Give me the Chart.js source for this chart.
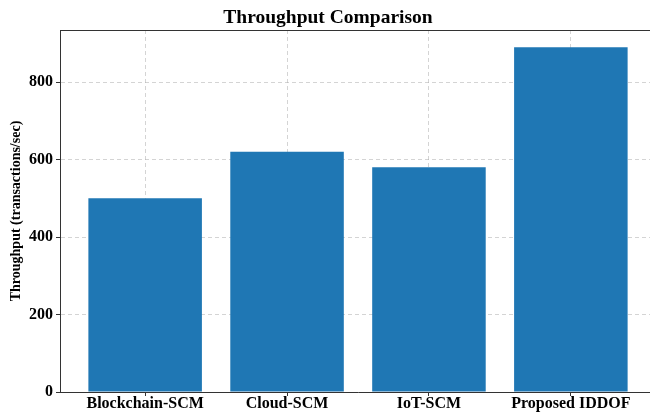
<!DOCTYPE html>
<html>
<head>
<meta charset="utf-8">
<script src="https://cdn.jsdelivr.net/npm/chart.js@4"></script>
<style>
  html, body { margin: 0; padding: 0; background: #fff; overflow: hidden; }
  #wrap { width: 700px; height: 412px; position: relative; }
</style>
</head>
<body>
<div id="wrap"><canvas id="chart"></canvas></div>
<script>
// chart data
const categories = ['Blockchain-SCM', 'Cloud-SCM', 'IoT-SCM', 'Proposed IDDOF'];
const throughput = [500, 620, 580, 890];
const yTicks = [0, 200, 400, 600, 800];

const serif = "'Liberation Serif', 'Times New Roman', serif";

// matplotlib-like top spine
const topSpine = {
    id: 'topSpine',
    afterDraw(chart) {
        const { ctx, chartArea } = chart;
        ctx.save();
        ctx.strokeStyle = '#333';
        ctx.lineWidth = 1;
        ctx.beginPath();
        ctx.moveTo(chartArea.left, chartArea.top + 0.5);
        ctx.lineTo(chartArea.right, chartArea.top + 0.5);
        ctx.stroke();
        ctx.restore();
    }
};

new Chart(document.getElementById('chart'), {
    type: 'bar',
    data: {
        datasets: [{
            data: throughput.map((v, i) => ({ x: i, y: v })),
            backgroundColor: '#1f77b4',
            borderWidth: 0,
            barPercentage: 0.8,
            categoryPercentage: 1.0
        }]
    },
    options: {
        responsive: true,
        maintainAspectRatio: false,
        animation: false,
        layout: { padding: { left: 0, right: 44, top: 0, bottom: 0 } },
        plugins: {
            legend: { display: false },
            tooltip: { enabled: false },
            title: {
                display: true,
                text: 'Throughput Comparison',
                color: '#000',
                font: { family: serif, size: 19.5, weight: 'bold', lineHeight: 1 },
                padding: { top: 8, bottom: 2.5 }
            }
        },
        scales: {
            x: {
                type: 'linear',
                min: -0.6,
                max: 3.6,
                offset: false,
                z: 1,
                afterFit(scale) { scale.height = 20; },
                afterBuildTicks(scale) {
                    scale.ticks = categories.map((c, i) => ({ value: i }));
                },
                ticks: {
                    color: '#000',
                    padding: 0,
                    autoSkip: false,
                    maxRotation: 0,
                    font: { family: serif, size: 16, weight: 'bold', lineHeight: 1 },
                    callback: (v) => categories[v] ?? ''
                },
                grid: {
                    color: 'rgba(176,176,176,0.55)',
                    tickColor: '#333',
                    tickLength: 4,
                    tickBorderDash: [],
                    offset: false
                },
                border: { color: '#333', width: 1, dash: [4, 3] }
            },
            y: {
                min: 0,
                max: 934.5,
                z: 1,
                afterFit(scale) { scale.width = 60; },
                afterBuildTicks(scale) {
                    scale.ticks = yTicks.map(v => ({ value: v }));
                },
                ticks: {
                    color: '#000',
                    padding: 3,
                    font: { family: serif, size: 16, weight: 'bold' }
                },
                grid: {
                    color: 'rgba(176,176,176,0.55)',
                    tickColor: '#333',
                    tickLength: 4,
                    tickBorderDash: []
                },
                border: { color: '#333', width: 1, dash: [4, 3] },
                title: {
                    display: true,
                    text: 'Throughput (transactions/sec)',
                    color: '#000',
                    font: { family: serif, size: 14, weight: 'bold' },
                    padding: { top: 8, bottom: 0 }
                }
            }
        }
    },
    plugins: [topSpine]
});
</script>
</body>
</html>
